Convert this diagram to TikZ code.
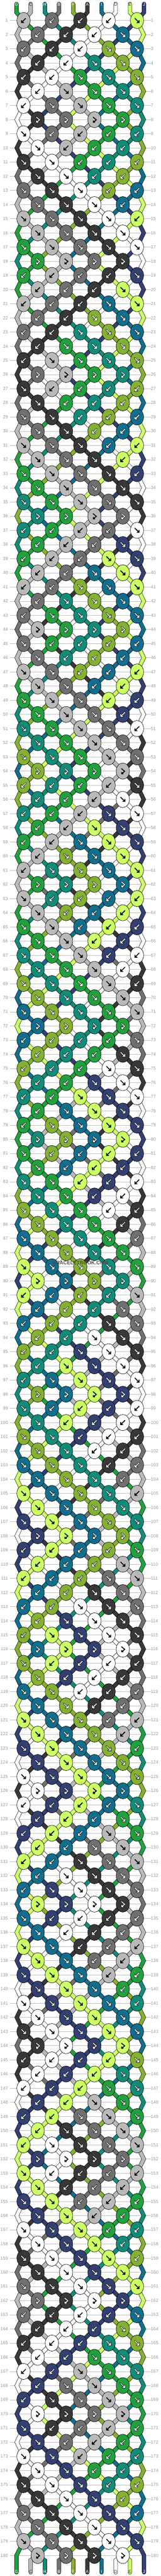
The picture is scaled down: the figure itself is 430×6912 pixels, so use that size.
\documentclass[tikz,border=0pt]{standalone}
\usepackage{fontspec}
\setmainfont{Liberation Sans}
\usetikzlibrary{shapes.geometric}
\definecolor{cG}{HTML}{22A03F}
\definecolor{cC}{HTML}{B9B9B9}
\definecolor{cH}{HTML}{128C78}
\definecolor{cB}{HTML}{707070}
\definecolor{cF}{HTML}{84B033}
\definecolor{cA}{HTML}{383838}
\definecolor{cI}{HTML}{126E8C}
\definecolor{cD}{HTML}{FFFFFF}
\definecolor{cE}{HTML}{CCFF66}
\definecolor{cJ}{HTML}{334070}
\definecolor{rowgray}{HTML}{BEBEBE}
\definecolor{lblgray}{HTML}{9A9A9A}
\definecolor{wmgray}{HTML}{4D4D4D}
\definecolor{darklbl}{HTML}{333333}
\tikzset{
 strand/.style={draw=black, line width=0.9pt, double distance=9.2pt, line cap=round, line join=miter},
 knot/.style={ellipse, minimum width=35.6pt, minimum height=43.4pt, inner sep=0pt},
 knotshape/.style={draw=black, line width=0.9pt},
 arrblack/.style={draw=black, line width=2.3pt, line cap=butt, line join=miter},
 arrout/.style={draw=black, line width=3.9pt, line cap=round, line join=miter},
 arrwhite/.style={draw=white, line width=2.1pt, line cap=butt, line join=miter},
 rowline/.style={draw=rowgray, line width=0.9pt},
 lbl/.style={font=\fontsize{12}{12}\selectfont, text=lblgray, inner sep=0pt},
 endlbl/.style={font=\fontsize{11.5}{11.5}\selectfont, inner sep=0pt},
 wm/.style={font=\bfseries\fontsize{13.5}{13.5}\selectfont, text=wmgray, inner sep=0pt}
}
% strings whose knots carry a black arrow
\def\lightC{1}\def\lightD{1}\def\lightE{1}
\newcount\kk
\def\setg#1#2{\expandafter\xdef\csname#1\endcsname{#2}}
% glyph paths: b = backward, f = forward, h = forward-backward
\def\pathb#1#2{(#1+6,#2-6) -- (#1-5.5,#2+5.5) (#1-5.5,#2-1) -- (#1-5.5,#2+5.5) -- (#1+1,#2+5.5)}
\def\pathf#1#2{(#1-6,#2-6) -- (#1+5.5,#2+5.5) (#1+5.5,#2-1) -- (#1+5.5,#2+5.5) -- (#1-1,#2+5.5)}
\def\pathh#1#2{(#1-4,#2-7) -- (#1+5,#2+0.5) -- (#1-3,#2+7) (#1-3,#2+2.5) -- (#1-3,#2+7) -- (#1+1.5,#2+7)}
\def\strandto#1#2{%
  \edef\tmp{\noexpand\draw[strand,double=c\csname S#1\endcsname] \csname Q#1\endcsname -- (#2.center);}%
  \tmp
}
% pass 1: simulate the strings, place the knot nodes, draw the strands
\def\doknot#1{%
  \global\advance\kk by 1
  \edef\kL{\the\numexpr2*\kk+\rowoff\relax}%
  \edef\kR{\the\numexpr\kL+1\relax}%
  \edef\cx{\the\numexpr63+38*(\kL-1)\relax}%
  \edef\sL{\csname S\kL\endcsname}%
  \edef\sR{\csname S\kR\endcsname}%
  \if#1b\let\kc\sR\else\let\kc\sL\fi
  \edef\kn{k-\rw-\the\kk}%
  \setg{KC\kn}{\kc}\setg{KT\kn}{#1}%
  \node[knot] (\kn) at (\cx,\ry) {};
  \strandto{\kL}{\kn}%
  \strandto{\kR}{\kn}%
  \setg{Q\kL}{(\kn.center)}\setg{Q\kR}{(\kn.center)}%
  \if#1h\else\setg{S\kL}{\sR}\setg{S\kR}{\sL}\fi
}
\def\dochars#1{\ifx#1\relax\else\doknot#1\expandafter\dochars\fi}
\def\blkA{bbbbf,bbbf,bbbff,bbff,bbfff,bfff,bffff,hhhh}
\def\blkB{fbbbb,fbbb,ffbbb,ffbb,fffbb,fffb,ffffb,ffff,fffff,hhhh}
\edef\allrows{\blkA,\blkB,\blkA,\blkB,\blkA,\blkB,\blkA,\blkB,\blkA,\blkB,\blkA,\blkB,\blkA,\blkB,\blkA,\blkB,\blkA,\blkB,\blkA,\blkB}
\begin{document}
\begin{tikzpicture}[x=1pt,y=-1pt]
\useasboundingbox (0,0) rectangle (430,6912);
\fill[white] (0,0) rectangle (430,6912);
% row rulings and numbers
\foreach \rw in {1,...,180} {%
  \edef\ry{\the\numexpr17+38*\rw\relax}%
  \draw[rowline] (26,\ry) -- (403,\ry);
  \node[lbl,anchor=east] (ll-\rw) at (21.5,\ry) {\rw};
  \node[lbl,anchor=west] (lr-\rw) at (404,\ry) {\rw};
}
% strings at the top
\foreach \s [count=\p] in {G,C,H,B,F,A,I,D,E,J} {
  \setg{S\p}{\s}
  \edef\xp{\the\numexpr44+38*(\p-1)\relax}
  \coordinate (s-\p) at (\xp,10.5);
  \coordinate (t-\p) at (\xp,33);
  \setg{Q\p}{(s-\p) -- (t-\p)}
}
% strands, row by row
\foreach \code [count=\rw] in \allrows {%
  \edef\ry{\the\numexpr17+38*\rw\relax}%
  \ifodd\rw\relax \def\rowoff{-1}\else\def\rowoff{0}\fi
  \global\kk=0
  \expandafter\dochars\code\relax
  \ifodd\rw\relax\else\ifnum\rw<180
     \coordinate (e-\rw-1) at (45,\ry);
     \coordinate (e-\rw-10) at (385,\ry);
     \setg{Q1}{\csname Q1\endcsname -- (e-\rw-1)}
     \setg{Q10}{\csname Q10\endcsname -- (e-\rw-10)}
  \fi\fi
}
% strings at the bottom
\foreach \p in {1,...,10} {
  \edef\xp{\the\numexpr44+38*(\p-1)\relax}
  \ifnum\p=1 \def\yb{6857}\else\ifnum\p=10 \def\yb{6857}\else\def\yb{6870}\fi\fi
  \coordinate (b-\p) at (\xp,\yb);
  \coordinate (z-\p) at (\xp,6902);
  \edef\tmp{\noexpand\draw[strand,double=c\csname S\p\endcsname] \csname Q\p\endcsname -- (b-\p) -- (z-\p);}
  \tmp
  \edef\sfin{\csname S\p\endcsname}
  \ifcsname light\sfin\endcsname
    \node[endlbl,text=darklbl] (bot-\p) at (\xp,6900) {\sfin};
  \else
    \node[endlbl,text=white] (bot-\p) at (\xp,6900) {\sfin};
  \fi
}
% labels at the top
\foreach \s [count=\p] in {G,C,H,B,F,A,I,D,E,J} {
  \edef\xp{\the\numexpr44+38*(\p-1)\relax}
  \ifcsname light\s\endcsname
    \node[endlbl,text=darklbl] (top-\p) at (\xp,12.5) {\s};
  \else
    \node[endlbl,text=white] (top-\p) at (\xp,12.5) {\s};
  \fi
}
% knots and their arrows
\foreach \rw in {1,...,180} {%
  \edef\ry{\the\numexpr17+38*\rw\relax}%
  \ifodd\rw\relax \def\rowoff{-1}\def\nk{5}\else\def\rowoff{0}\def\nk{4}\fi
  \foreach \k in {1,...,\nk} {%
    \edef\kn{k-\rw-\k}%
    \edef\kc{\csname KC\kn\endcsname}%
    \edef\kt{\csname KT\kn\endcsname}%
    \edef\kcol{c\kc}%
    \edef\cx{\the\numexpr63+38*(2*\k+\rowoff-1)\relax}%
    \draw[knotshape,fill=\kcol] (\kn.center) ellipse [x radius=17.8, y radius=21.7];
    \ifcsname light\kc\endcsname
      \edef\tmp{\noexpand\draw[arrblack] \csname path\kt\endcsname{\cx}{\ry};}\tmp
    \else
      \edef\tmp{\noexpand\draw[arrout] \csname path\kt\endcsname{\cx}{\ry};}\tmp
      \edef\tmp{\noexpand\draw[arrwhite] \csname path\kt\endcsname{\cx}{\ry};}\tmp
    \fi
  }
}
\node[wm] (wm) at (215,3389) {BRACELETBOOK.COM};
\end{tikzpicture}
\end{document}
